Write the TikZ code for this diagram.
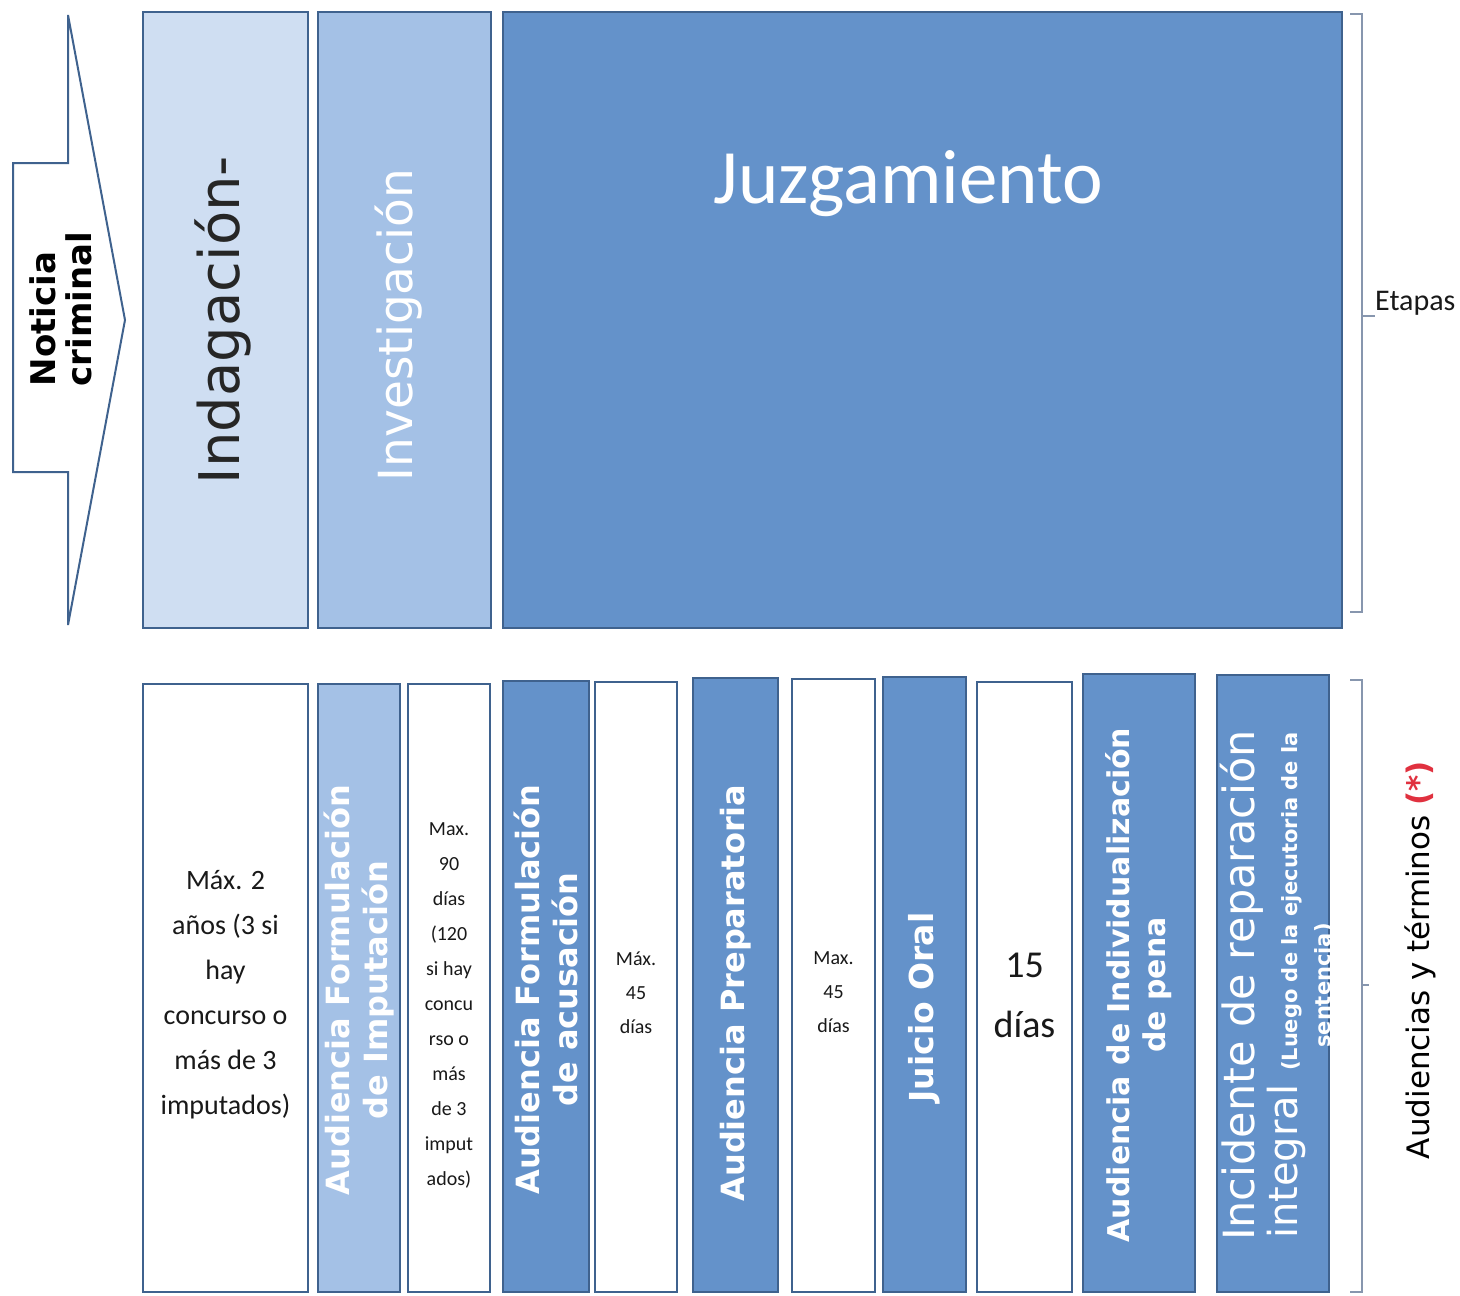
\documentclass[tikz,border=0pt]{standalone}
\usepackage{fontspec}
\setmainfont{Carlito}
\newfontfamily\verd{DejaVu Sans}
\usetikzlibrary{positioning}
\definecolor{edgeblue}{HTML}{3F628E}
\definecolor{lightblue}{HTML}{CFDEF2}
\definecolor{midblue}{HTML}{A4C1E6}
\definecolor{darkblue}{HTML}{6492CA}
\definecolor{bracegray}{HTML}{8796AE}
\definecolor{starred}{HTML}{E0313F}
\newcommand{\fs}[2]{\fontsize{#1}{#2}\selectfont}
\tikzset{
  stage/.style={
    draw=edgeblue,
    line width=2.6pt,
    inner sep=0pt
  },
  vlbl/.style={rotate=90, align=center, inner sep=0pt, text=white, font=\verd\bfseries\fs{32}{38}},
  tlbl/.style={align=center, inner sep=0pt, text=black!90},
  brace/.style={draw=bracegray, line width=1.4pt},
}

\begin{document}
\begin{tikzpicture}[x=1pt, y=-1pt]
  \useasboundingbox (0,0) rectangle (1460,1296);
  % arrow
  \draw[stage, line width=2pt, fill=white] (13,163) -- (68,163) -- (68,15) -- (125,320)
    -- (68,625) -- (68,472) -- (13,472) -- cycle;
  \node[rotate=90, align=left, inner sep=0pt, font=\verd\bfseries\fs{34}{36}] (noticia) at (61,309) {Noticia\\criminal};
  % etapas
  \node[stage, fill=lightblue, minimum width=165pt, minimum height=616pt] (indag) at (225.5,320) {};
  \node[stage, fill=midblue, minimum width=173pt, minimum height=616pt] (invest) at (404.5,320) {};
  \node[stage, fill=darkblue, minimum width=839pt, minimum height=616pt] (juzg) at (922.5,320) {};
  \node[rotate=90, inner sep=0pt, text=black!85, font=\verd\fs{56}{60}] (tindag) at ([xshift=-3pt]indag.center) {Indagación-};
  \node[rotate=90, inner sep=0pt, text=white, font=\verd\fs{47}{50}] (tinvest) at ([xshift=-6pt,yshift=-5pt]invest.center) {Investigación};
  \node[inner sep=0pt, text=white, font=\fs{77}{80}] (tjuzg) at ([xshift=-14pt,yshift=-173pt]juzg.north) {Juzgamiento};
  % audiencias y terminos
  \foreach \nm/\xa/\xb/\yt/\fc in {
    b1/143/308/684/white, b2/318/400/684/midblue, b3/408/490/684/white,
    b4/503/589/681/darkblue, b5/595/677/682/white, b6/693/778/678/darkblue,
    b7/792/875/679/white, b8/883/966/677/darkblue, b9/977/1072/682/white,
    b10/1083/1195/674/darkblue, b11/1217/1329/675/darkblue}
    \node[stage, fill=\fc, minimum width={(\xb-\xa)*1pt}, minimum height={(1292-\yt)*1pt}] (\nm) at ({(\xa+\xb)/2},{(\yt+1292)/2}) {};
  \node[tlbl, font=\fs{28}{45}] (t1) at ([yshift=-7pt]b1.center) {Máx. 2\\años (3 si\\hay\\concurso o\\más de 3\\imputados)};
  \node[vlbl] (t2) at ([yshift=-2pt]b2.center) {Audiencia Formulación\\de Imputación};
  \node[tlbl, font=\fs{20}{35}] (t3) at ([yshift=-17pt]b3.center) {Max.\\90\\días\\(120\\si hay\\concu\\rso o\\más\\de 3\\imput\\ados)};
  \node[vlbl] (t4) at ([yshift=-3pt]b4.center) {Audiencia Formulación\\de acusación};
  \node[tlbl, font=\fs{20}{34}] (t5) at ([yshift=-6pt]b5.center) {Máx.\\45\\días};
  \node[vlbl] (t6) at ([yshift=-8pt]b6.center) {Audiencia Preparatoria};
  \node[tlbl, font=\fs{20}{34}] (t7) at ([yshift=-7pt]b7.center) {Max.\\45\\días};
  \node[vlbl, font=\verd\bfseries\fs{33}{38}] (t8) at ([yshift=-23pt]b8.center) {Juicio Oral};
  \node[tlbl, font=\fs{38}{60}] (t9) at ([yshift=-8pt]b9.center) {15\\días};
  \node[vlbl, font=\verd\bfseries\fs{30}{36}] (t10) at ([yshift=-2pt]b10.center) {Audiencia de Individualización\\de pena};
  \node[vlbl, font=\verd\fs{43}{43}] (t11) at ([xshift=4pt,yshift=-2pt]b11.center)
    {Incidente de reparación\\{\fs{40}{43}integral} {\fs{21}{24}\bfseries (Luego de la ejecutoria de la}\\[-10pt]{\fs{21}{24}\bfseries sentencia)}};
  % llaves
  \coordinate (brA1) at (1350,14);
  \coordinate (brA2) at (1350,612);
  \coordinate (tickA) at (1362,316);
  \coordinate (brB1) at (1350,680);
  \coordinate (brB2) at (1350,1292);
  \coordinate (tickB) at (1362,985);
  \draw[brace] (brA1) -- ++(12,0) |- (brA2);
  \draw[brace] (brB1) -- ++(12,0) |- (brB2);
  \node[anchor=west, inner sep=0pt, font=\fs{30}{32}, text=black!90] (etapas) at (1375,303) {Etapas};
  \draw[brace] (tickA) -- (etapas.west |- tickA);
  \node[rotate=90, inner sep=0pt, font=\verd\fs{31}{34}] (audter) at (1420,960) {Audiencias y términos \textcolor{starred}{\bfseries(*)}};
  \draw[brace] (tickB) -- ++(7,0);
\end{tikzpicture}
\end{document}
